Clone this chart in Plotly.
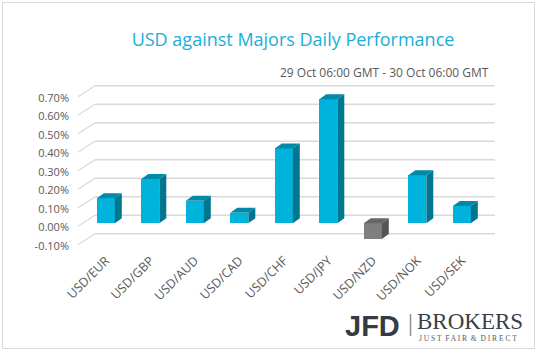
import plotly.graph_objects as go

# ---- data ----
categories = ["USD/EUR", "USD/GBP", "USD/AUD", "USD/CAD", "USD/CHF",
              "USD/JPY", "USD/NZD", "USD/NOK", "USD/SEK"]
values = [0.135, 0.24, 0.122, 0.057, 0.405, 0.67, -0.085, 0.26, 0.094]  # percent
tick_values = [-0.10, 0.00, 0.10, 0.20, 0.30, 0.40, 0.50, 0.60, 0.70]

# ---- layout geometry ----
W, H = 538, 352
ML, MR, MT, MB = 70, 38, 80, 102
PW, PH = W - ML - MR, H - MT - MB
X_C0, X_STEP = 105.8, 44.5        # px centre of first category, px per category
Y_ZERO, Y_UNIT = 223.3, 185.0     # px of 0 %, px per 1 %

def xd(px):  # pixel -> x data
    return (px - X_C0) / X_STEP

def yd(py):  # pixel -> y data (percent)
    return (Y_ZERO - py) / Y_UNIT

def px_paper(px):
    return (px - ML) / PW

def py_paper(py):
    return (H - MB - py) / PH

xr = [xd(ML), xd(W - MR)]
yr = [yd(H - MB), yd(MT)]

BW = 18 / X_STEP        # bar width (data units)
DX = 7 / X_STEP         # depth offset x
DY = 5 / Y_UNIT         # depth offset y

front_col = ["#00B3DC" if v >= 0 else "#7F7F7F" for v in values]
side_col = ["#00768F" if v >= 0 else "#555555" for v in values]
top_col = ["#0089A8" if v >= 0 else "#666666" for v in values]

fig = go.Figure()

# side & top faces of the 3D columns (derived from values)
for i, v in enumerate(values):
    r = i + BW / 2
    l = i - BW / 2
    fig.add_trace(go.Scatter(
        x=[r, r + DX, r + DX, r, r], y=[0, DY, v + DY, v, 0],
        fill="toself", fillcolor=side_col[i], mode="lines",
        line=dict(width=0, color=side_col[i]), hoverinfo="skip", showlegend=False))
    ytop = max(v, 0)
    fig.add_trace(go.Scatter(
        x=[l, r, r + DX, l + DX, l], y=[ytop, ytop, ytop + DY, ytop + DY, ytop],
        fill="toself", fillcolor=top_col[i], mode="lines",
        line=dict(width=0, color=top_col[i]), hoverinfo="skip", showlegend=False))

# front faces
fig.add_trace(go.Bar(
    x=list(range(len(categories))), y=values, width=BW,
    marker=dict(color=front_col, line=dict(width=0)),
    hoverinfo="skip", showlegend=False))

# 3D gridlines: back wall lines + floor diagonals
shapes = []
BACK_OFF = 8 / Y_UNIT
FRONT_OFF = -3 / Y_UNIT
for t in tick_values:
    shapes.append(dict(type="line", xref="x", yref="y", layer="below",
                       x0=xd(95), x1=xd(495), y0=t + BACK_OFF, y1=t + BACK_OFF,
                       line=dict(color="#D9D9D9", width=1.5)))
    shapes.append(dict(type="line", xref="x", yref="y", layer="below",
                       x0=xd(78), x1=xd(95), y0=t + FRONT_OFF, y1=t + BACK_OFF,
                       line=dict(color="#D9D9D9", width=1.2)))
# outer chart border
shapes.append(dict(type="rect", xref="paper", yref="paper",
                   x0=px_paper(2.5), x1=px_paper(534.5),
                   y0=py_paper(348.5), y1=py_paper(2.5),
                   line=dict(color="#D9D9D9", width=1)))
# logo divider
shapes.append(dict(type="line", xref="paper", yref="paper",
                   x0=px_paper(410.5), x1=px_paper(410.5),
                   y0=py_paper(314), y1=py_paper(336),
                   line=dict(color="#8A8F96", width=1.5)))

annotations = [
    dict(text="29 Oct 06:00 GMT - 30 Oct 06:00 GMT", xref="paper", yref="paper",
         x=px_paper(491), y=py_paper(73), xanchor="right", yanchor="middle",
         showarrow=False, font=dict(family="Open Sans", size=12, color="#595959")),
    dict(text="<b>JFD</b>", xref="paper", yref="paper",
         x=px_paper(402), y=py_paper(326), xanchor="right", yanchor="middle",
         showarrow=False, font=dict(family="Liberation Sans", size=29, color="#353B44")),
    dict(text="BROKERS", xref="paper", yref="paper",
         x=px_paper(415), y=py_paper(321), xanchor="left", yanchor="middle",
         showarrow=False, font=dict(family="Liberation Serif", size=23, color="#3A3F47")),
    dict(text="J U S T  F A I R  &  D I R E C T", xref="paper", yref="paper",
         x=px_paper(417), y=py_paper(338), xanchor="left", yanchor="middle",
         showarrow=False, font=dict(family="Liberation Serif", size=7.5, color="#555A60")),
]

fig.update_layout(
    width=W, height=H,
    margin=dict(l=ML, r=MR, t=MT, b=MB),
    paper_bgcolor="white", plot_bgcolor="white",
    title=dict(text="USD against Majors Daily Performance",
               x=293 / W, xanchor="center", y=1 - 40 / H, yanchor="middle",
               font=dict(family="Open Sans", size=18, color="#1AAED8")),
    xaxis=dict(range=xr, tickvals=list(range(len(categories))), ticktext=categories,
               tickangle=-45, showgrid=False, zeroline=False, showline=False,
               tickfont=dict(family="Open Sans", size=12.5, color="#595959")),
    yaxis=dict(range=yr, tickvals=tick_values,
               ticktext=[f"{t:.2f}%" for t in tick_values],
               showgrid=False, zeroline=False, showline=False, ticklabelshift=4,
               tickfont=dict(family="Open Sans", size=11, color="#595959")),
    shapes=shapes, annotations=annotations, bargap=0,
)

fig.write_html("out.html")
